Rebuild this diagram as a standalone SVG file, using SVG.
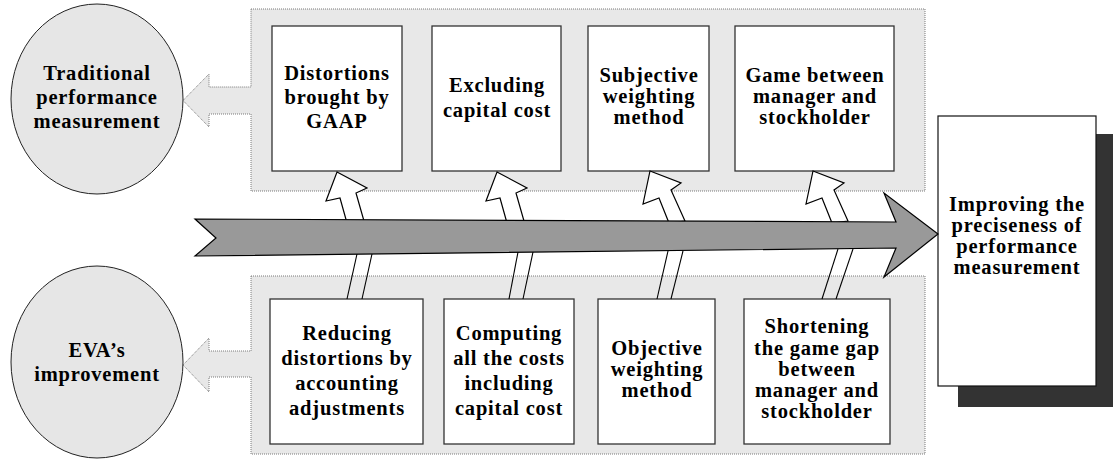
<svg xmlns="http://www.w3.org/2000/svg" width="1113" height="461" viewBox="0 0 1113 461">
<style>
.panel{fill:#e8e8e8;stroke:#7a7a7a;stroke-width:1;stroke-dasharray:1 1}
.circ{fill:#e6e6e6;stroke:#222;stroke-width:1}
.box{fill:#fff;stroke:#333;stroke-width:1.3}
.t{font-family:"Liberation Serif","Times New Roman",serif;font-weight:bold;font-size:20.5px;letter-spacing:0.8px;fill:#000;text-anchor:middle}
.sa{fill:#fff;stroke:#000;stroke-width:1.2;stroke-linejoin:miter}
.ln{stroke:#000;stroke-width:1.1;fill:none}
</style>
<rect width="1113" height="461" fill="#fff"/>
<g id="panel-top"><polygon class="panel" points="251,9 925,9 925,191 251,191 251,114 209,114 209,127 183,100.5 209,74 209,87 251,87"/></g>
<g id="panel-bottom"><polygon class="panel" points="251,276 925,276 925,454 251,454 251,377 209,377 209,392 183,365 209,338 209,351 251,351"/></g>
<g id="circle-traditional"><ellipse class="circ" cx="97" cy="99" rx="86" ry="95"/>
<text class="t"><tspan x="97" y="80">Traditional</tspan><tspan x="97" y="104">performance</tspan><tspan x="97" y="128">measurement</tspan></text></g>
<g id="circle-eva"><ellipse class="circ" cx="97" cy="362" rx="86" ry="96"/>
<text class="t"><tspan x="97" y="357">EVA’s</tspan><tspan x="97" y="381">improvement</tspan></text></g>
<g id="box-t1"><rect class="box" x="272" y="26" width="130" height="145"/>
<text class="t"><tspan x="337" y="80">Distortions</tspan><tspan x="337" y="104">brought by</tspan><tspan x="337" y="128">GAAP</tspan></text></g>
<g id="box-t2"><rect class="box" x="432" y="26" width="129" height="145"/>
<text class="t"><tspan x="497" y="92">Excluding</tspan><tspan x="497" y="117">capital cost</tspan></text></g>
<g id="box-t3"><rect class="box" x="588" y="26" width="121" height="145"/>
<text class="t"><tspan x="649" y="82">Subjective</tspan><tspan x="649" y="103">weighting</tspan><tspan x="649" y="124">method</tspan></text></g>
<g id="box-t4"><rect class="box" x="735" y="26" width="159" height="145"/>
<text class="t"><tspan x="815" y="82">Game between</tspan><tspan x="815" y="103">manager and</tspan><tspan x="815" y="124">stockholder</tspan></text></g>
<g id="box-b1"><rect class="box" x="270" y="299" width="153" height="145"/>
<text class="t"><tspan x="347" y="340">Reducing</tspan><tspan x="347" y="365">distortions by</tspan><tspan x="347" y="390">accounting</tspan><tspan x="347" y="415">adjustments</tspan></text></g>
<g id="box-b2"><rect class="box" x="444" y="299" width="130" height="145"/>
<text class="t"><tspan x="509" y="340">Computing</tspan><tspan x="509" y="365">all the costs</tspan><tspan x="509" y="390">including</tspan><tspan x="509" y="415">capital cost</tspan></text></g>
<g id="box-b3"><rect class="box" x="598" y="299" width="117" height="145"/>
<text class="t"><tspan x="657" y="355">Objective</tspan><tspan x="657" y="376">weighting</tspan><tspan x="657" y="397">method</tspan></text></g>
<g id="box-b4"><rect class="box" x="744" y="299" width="146" height="145"/>
<text class="t"><tspan x="817" y="333">Shortening</tspan><tspan x="817" y="355">the game gap</tspan><tspan x="817" y="376">between</tspan><tspan x="817" y="397">manager and</tspan><tspan x="817" y="418">stockholder</tspan></text></g>
<g id="box-result"><rect x="958" y="134" width="158" height="273" fill="#333"/>
<rect x="938" y="116" width="158" height="270" fill="#fff" stroke="#111" stroke-width="1.2"/>
<text class="t"><tspan x="1017" y="211">Improving the</tspan><tspan x="1017" y="232">preciseness of</tspan><tspan x="1017" y="253">performance</tspan><tspan x="1017" y="274">measurement</tspan></text></g>
<g id="connectors">
<polygon class="sa" points="337,172 367,188 356,193 364,221 347,223 340,198 326,201"/>
<polygon class="sa" points="497,172 527,188 516,193 524,221 507,223 500,198 486,201"/>
<polygon class="sa" points="650,171 681,183 671,190 685,221 669,223 659,198 643,204"/>
<polygon class="sa" points="813,171 844,183 834,190 848,221 832,223 822,198 806,204"/>
<polygon id="main-arrow" points="195,219 896,222 884,193 938,234 884,277 896,248 195,256 216,238" fill="#999" stroke="#000" stroke-width="1.2" stroke-linejoin="miter"/>
<line class="ln" x1="357" y1="254" x2="347" y2="299"/><line class="ln" x1="372" y1="254" x2="362" y2="299"/>
<line class="ln" x1="518" y1="252" x2="509" y2="299"/><line class="ln" x1="533" y1="252" x2="523" y2="299"/>
<line class="ln" x1="668" y1="251" x2="657" y2="299"/><line class="ln" x1="683" y1="251" x2="671" y2="299"/>
<line class="ln" x1="838" y1="249" x2="822" y2="299"/><line class="ln" x1="853" y1="249" x2="836" y2="299"/>
</g>
</svg>
